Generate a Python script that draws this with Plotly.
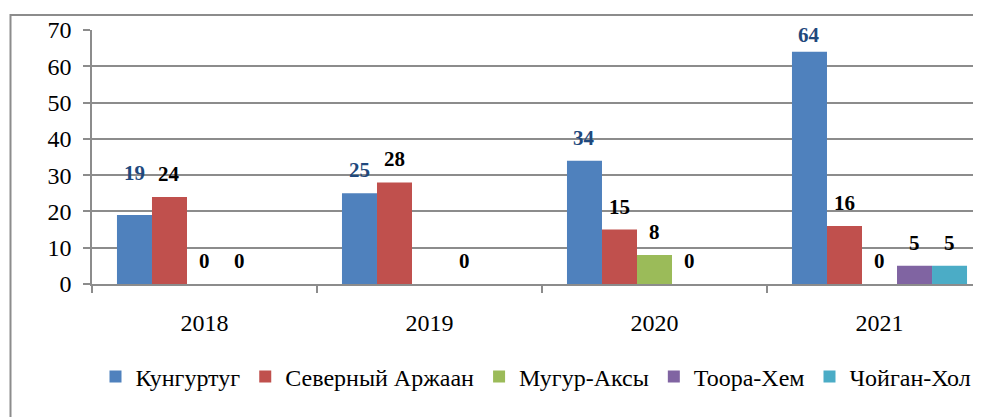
import plotly.graph_objects as go

# ---------------- data ----------------
years = ["2018", "2019", "2020", "2021"]
series_names = ["Кунгуртуг", "Северный Аржаан", "Мугур-Аксы", "Тоора-Хем", "Чойган-Хол"]
kungurtug = [19, 25, 34, 64]
severny_arzhaan = [24, 28, 15, 16]
mugur_aksy = [0, None, 8, 0]
toora_khem = [0, 0, 0, 5]
choigan_khol = [None, None, None, 5]
series_values = [kungurtug, severny_arzhaan, mugur_aksy, toora_khem, choigan_khol]
y_ticks = [0, 10, 20, 30, 40, 50, 60, 70]

# ---------------- style ----------------
colors = ["#4F81BD", "#C0504D", "#9BBB59", "#8064A2", "#4BACC6"]
label_colors = ["#1F497D", "#000000", "#000000", "#000000", "#000000"]
FONT = "Liberation Serif"
GRID = "#8C8C8C"

OFF = 8  # page body margin of the browser
W, H = 981 - OFF, 417 - OFF
ML, MT = 92 - OFF, 30 - OFF
MB = H - (284 - OFF)
plot_w = W - ML
plot_h = H - MT - MB
cat_px = 225.0
bargap = 0.222
n_series = len(series_names)
bar_px = cat_px * (1 - bargap) / n_series
x_hi = -0.5 + plot_w / cat_px

label_lift = 23
label_nudge = {(0, 0): 19, (0, 3): -6}  # (series, year) -> extra px


def px_to_paper_x(px):  # px = page pixel
    return (px - OFF - ML) / plot_w


def px_to_paper_y(py):
    return (H - MB - (py - OFF)) / plot_h


fig = go.Figure()
for i, (name, vals) in enumerate(zip(series_names, series_values)):
    fig.add_trace(go.Bar(
        name=name, x=years, y=vals,
        marker=dict(color=colors[i], line=dict(width=0)),
    ))

annotations = []
for i, vals in enumerate(series_values):
    for j, v in enumerate(vals):
        if v is None:
            continue
        annotations.append(dict(
            x=j, y=v, xref="x", yref="y",
            text="<b>%d</b>" % v, showarrow=False,
            xshift=(i - (n_series - 1) / 2) * bar_px,
            yshift=label_lift + label_nudge.get((i, j), 0),
            yanchor="middle", xanchor="center",
            font=dict(family=FONT, size=21, color=label_colors[i]),
        ))

# outer chart frame (its right and bottom edges lie outside the picture)
shapes = [dict(
    type="rect", xref="paper", yref="paper",
    x0=px_to_paper_x(10.5), x1=px_to_paper_x(1000),
    y0=px_to_paper_y(440), y1=px_to_paper_y(15),
    line=dict(color=GRID, width=2), fillcolor="rgba(0,0,0,0)", layer="below",
)]

fig.update_layout(
    width=W, height=H,
    margin=dict(l=ML, r=0, t=MT, b=MB, pad=0, autoexpand=False),
    paper_bgcolor="white", plot_bgcolor="white",
    barmode="group", bargap=bargap, bargroupgap=0,
    font=dict(family=FONT, color="#000000"),
    annotations=annotations, shapes=shapes,
    legend=dict(
        orientation="h", x=px_to_paper_x(536), y=px_to_paper_y(377),
        xanchor="center", yanchor="middle",
        font=dict(family=FONT, size=24, color="#000000"),
        itemwidth=30, tracegroupgap=0,
        bgcolor="rgba(0,0,0,0)",
    ),
    xaxis=dict(
        range=[-0.5, x_hi], type="category", automargin=False,
        showline=True, linecolor=GRID, linewidth=2,
        ticks="outside", tickson="boundaries", ticklen=7, tickcolor=GRID, tickwidth=1.5,
        tickfont=dict(family=FONT, size=24, color="#000000"),
        ticklabelstandoff=16,
        showgrid=False, zeroline=False, fixedrange=True,
    ),
    yaxis=dict(
        range=[0, 70], tickvals=y_ticks, automargin=False,
        showline=True, linecolor=GRID, linewidth=1.5,
        ticks="outside", ticklen=7, tickcolor=GRID, tickwidth=1.5,
        tickfont=dict(family=FONT, size=24, color="#000000"),
        ticklabelstandoff=7,
        showgrid=True, gridcolor=GRID, gridwidth=2,
        zeroline=False, fixedrange=True,
    ),
    showlegend=True,
)

fig.write_html("out.html")
